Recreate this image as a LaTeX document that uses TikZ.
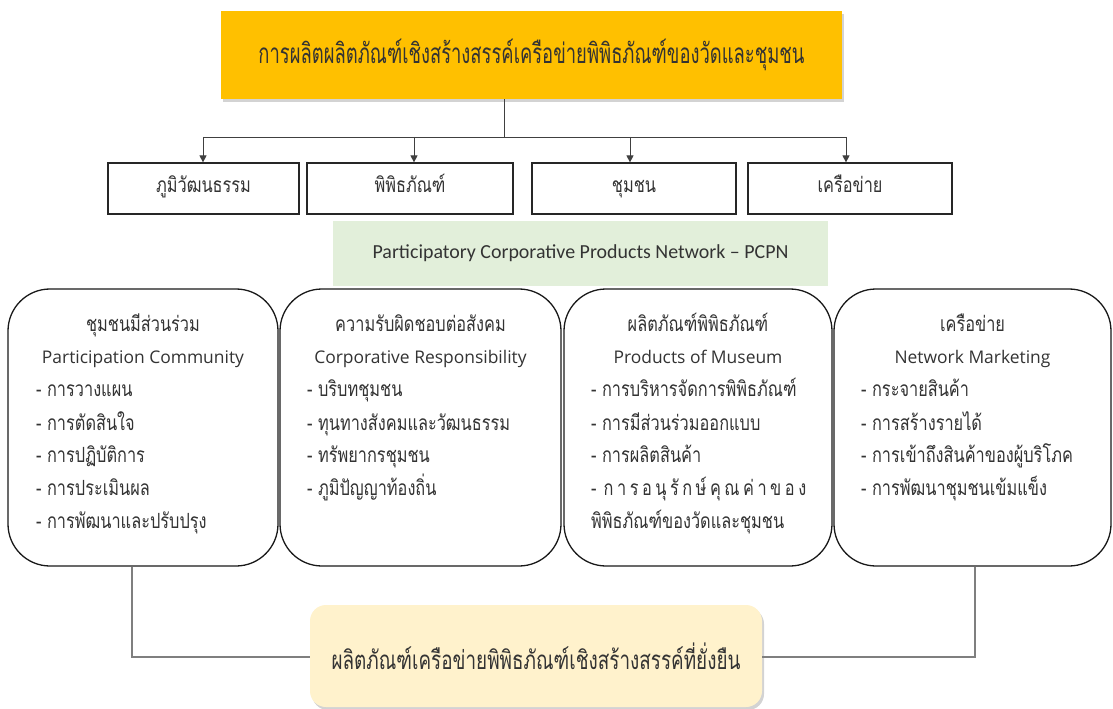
\documentclass[tikz,border=0pt]{standalone}
\usepackage{fontspec}
\usepackage{graphicx}
\usetikzlibrary{shadows,arrows.meta}
\newfontfamily\thai[Script=Thai,FakeStretch=0.78]{Loma}
\newfontfamily\thaih[Script=Thai]{Loma}
\newfontfamily\latinf{Open Sans}
\newfontfamily\calib{Carlito}
\definecolor{hdrY}{HTML}{FFC000}
\definecolor{pcpnG}{HTML}{E2EFDA}
\definecolor{botY}{HTML}{FFF2CC}
\definecolor{txtC}{HTML}{333333}
\definecolor{lineC}{HTML}{404040}
\definecolor{conC}{HTML}{7F7F7F}
\begin{document}
\begin{tikzpicture}[x=1bp,y=-1bp,
  hdrbox/.style={fill=hdrY,draw=none,inner sep=0pt,text=txtC,
    drop shadow={shadow xshift=2bp,shadow yshift=-3bp,opacity=0.35}},
  catbox/.style={draw=black!85,line width=1.2bp,fill=white,inner sep=0pt,
    minimum height=51bp,text=txtC,text height=13bp,text depth=4bp,
    font=\thai\fontsize{21}{23}\selectfont},
  pcpnbox/.style={fill=pcpnG,draw=none,inner sep=0pt,text=txtC,
    font=\calib\fontsize{20}{22}\selectfont},
  roundbox/.style={draw=black!90,line width=1.3bp,rounded corners=42bp,
    fill=white,inner sep=0pt,minimum height=277bp},
  botbox/.style={fill=botY,draw=none,rounded corners=16bp,inner sep=0pt,text=txtC,
    drop shadow={shadow xshift=2bp,shadow yshift=-3bp,opacity=0.35}},
  ttl/.style={anchor=base,text=txtC,inner sep=0pt,font=\thai\fontsize{21}{23}\selectfont},
  eng/.style={anchor=base,text=txtC,inner sep=0pt,font=\latinf\fontsize{17.5}{19}\selectfont},
  itm/.style={anchor=base west,text=txtC,inner sep=0pt,font=\thai\fontsize{21}{23}\selectfont},
  conn/.style={draw=lineC,line width=0.9bp},
  arr/.style={conn,-{Triangle[length=7bp,width=7bp]}},
  conn2/.style={draw=conC,line width=1.1bp}
]
\useasboundingbox (0,0) rectangle (1113,709);

% header
\node[hdrbox,minimum width=621bp,minimum height=88bp] (top) at (531.5,55)
  {\resizebox{546bp}{\height}{\thaih\fontsize{28}{30}\selectfont การผลิตผลิตภัณฑ์เชิงสร้างสรรค์เครือข่ายพิพิธภัณฑ์ของวัดและชุมชน}};

% four category boxes
\node[catbox,minimum width=191bp] (b1) at (203.5,188.5) {ภูมิวัฒนธรรม};
\node[catbox,minimum width=206bp] (b2) at (410,188.5) {พิพิธภัณฑ์};
\node[catbox,minimum width=204bp] (b3) at (634,188.5) {ชุมชน};
\node[catbox,minimum width=204bp] (b4) at (850,188.5) {เครือข่าย};

% connectors from header
\coordinate (sp) at (504,137);
\coordinate (a1) at (203,137);
\coordinate (a2) at (414,137);
\coordinate (a3) at (630,137);
\coordinate (a4) at (846,137);
\draw[conn] (sp |- top.south) -- (sp);
\draw[conn] (a1) -- (a4);
\draw[arr] (a1) -- (a1 |- b1.north);
\draw[arr] (a2) -- (a2 |- b2.north);
\draw[arr] (a3) -- (a3 |- b3.north);
\draw[arr] (a4) -- (a4 |- b4.north);

% PCPN band
\node[pcpnbox,minimum width=495bp,minimum height=65bp] (pcpn) at (580.5,253.5)
  {Participatory Corporative Products Network – PCPN};

% rounded boxes
\node[roundbox,minimum width=270bp] (A) at (143,427.5) {};
\node[roundbox,minimum width=281bp] (B) at (420.5,427.5) {};
\node[roundbox,minimum width=268bp] (C) at (698,427.5) {};
\node[roundbox,minimum width=277bp] (D) at (972.5,427.5) {};

% box A text
\node[ttl] (At) at (143,331) {ชุมชนมีส่วนร่วม};
\node[eng] (Ae) at (143,363) {Participation Community};
\node[itm] (A1) at (36,396) {- การวางแผน};
\node[itm] (A2) at (36,430) {- การตัดสินใจ};
\node[itm] (A3) at (36,462) {- การปฏิบัติการ};
\node[itm] (A4) at (36,495) {- การประเมินผล};
\node[itm] (A5) at (36,528) {- การพัฒนาและปรับปรุง};

% box B text
\node[ttl] (Bt) at (420.5,331) {ความรับผิดชอบต่อสังคม};
\node[eng] (Be) at (420.5,363) {Corporative Responsibility};
\node[itm] (B1) at (307,396) {- บริบทชุมชน};
\node[itm] (B2) at (307,430) {- ทุนทางสังคมและวัฒนธรรม};
\node[itm] (B3) at (307,462) {- ทรัพยากรชุมชน};
\node[itm] (B4) at (307,495) {- ภูมิปัญญาท้องถิ่น};

% box C text
\node[ttl] (Ct) at (698,331) {ผลิตภัณฑ์พิพิธภัณฑ์};
\node[eng] (Ce) at (698,363) {Products of Museum};
\node[itm] (C1) at (591,396) {- การบริหารจัดการพิพิธภัณฑ์};
\node[itm] (C2) at (591,430) {- การมีส่วนร่วมออกแบบ};
\node[itm] (C3) at (591,462) {- การผลิตสินค้า};
\node[itm] (C4) at (591,495) {\makebox[215bp][s]{-\hfill\hfill ก\hfill า\hfill ร\hfill อ\hfill นุ\hfill รั\hfill ก\hfill ษ์\hfill คุ\hfill ณ\hfill ค่\hfill า\hfill ข\hfill อ\hfill ง}};
\node[itm] (C5) at (591,528) {พิพิธภัณฑ์ของวัดและชุมชน};

% box D text
\node[ttl] (Dt) at (972.5,331) {เครือข่าย};
\node[eng] (De) at (972.5,363) {Network Marketing};
\node[itm] (D1) at (861,396) {- กระจายสินค้า};
\node[itm] (D2) at (861,430) {- การสร้างรายได้};
\node[itm] (D3) at (861,462) {- การเข้าถึงสินค้าของผู้บริโภค};
\node[itm] (D4) at (861,495) {- การพัฒนาชุมชนเข้มแข็ง};

% bottom box
\node[botbox,minimum width=452bp,minimum height=102bp] (bot) at (536,656)
  {\resizebox{409bp}{\height}{\thaih\fontsize{26}{28}\selectfont ผลิตภัณฑ์เครือข่ายพิพิธภัณฑ์เชิงสร้างสรรค์ที่ยั่งยืน}};

% bottom connectors
\coordinate (lA) at (132,657);
\coordinate (rD) at (975,657);
\draw[conn2] (lA |- A.south) -- (lA) -- (lA -| bot.west);
\draw[conn2] (rD |- D.south) -- (rD) -- (rD -| bot.east);
\end{tikzpicture}
\end{document}
